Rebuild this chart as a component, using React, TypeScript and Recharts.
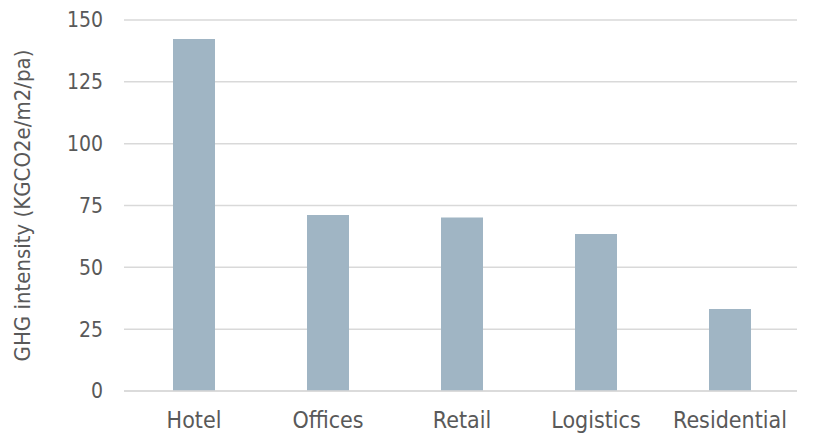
import { Bar, BarChart, CartesianGrid, XAxis, YAxis, Label } from "recharts";

const categories = ["Hotel", "Offices", "Retail", "Logistics", "Residential"];
const intensity = [142.3, 71.2, 70.1, 63.5, 33.2];
const yTicks = [0, 25, 50, 75, 100, 125, 150];

const data = categories.map((name, i) => ({ name, value: intensity[i] }));

const FONT = "'DejaVu Sans Condensed', 'DejaVu Sans', sans-serif";
const TEXT = "#595959";

export default function App() {
  return (
    <div style={{ position: "absolute", left: 0, top: 0, width: 821, height: 434, background: "#fff" }}>
      <BarChart
        width={821}
        height={434}
        data={data}
        margin={{ top: 20, right: 24, left: 0, bottom: 0 }}
        style={{ fontFamily: FONT }}
      >
        <CartesianGrid vertical={false} stroke="#d9d9d9" strokeWidth={1.5} />
        <XAxis
          dataKey="name"
          axisLine={{ stroke: "#d9d9d9", strokeWidth: 1.5 }}
          tickLine={false}
          tickSize={0}
          tickMargin={21}
          height={43}
          padding={{ left: 3, right: 0 }}
          tick={{ fontSize: 23, fill: TEXT }}
        />
        <YAxis
          domain={[0, 150]}
          ticks={yTicks}
          axisLine={false}
          tickLine={false}
          tickSize={0}
          tickMargin={21}
          width={124}
          tick={{ fontSize: 21, fill: TEXT }}
        >
          <Label
            value="GHG intensity (KGCO2e/m2/pa)"
            angle={-90}
            position="insideLeft"
            offset={22}
            style={{ textAnchor: "middle", fontSize: 22, fill: TEXT }}
          />
        </YAxis>
        <Bar dataKey="value" fill="#a0b5c4" barSize={42} isAnimationActive={false} />
      </BarChart>
    </div>
  );
}
